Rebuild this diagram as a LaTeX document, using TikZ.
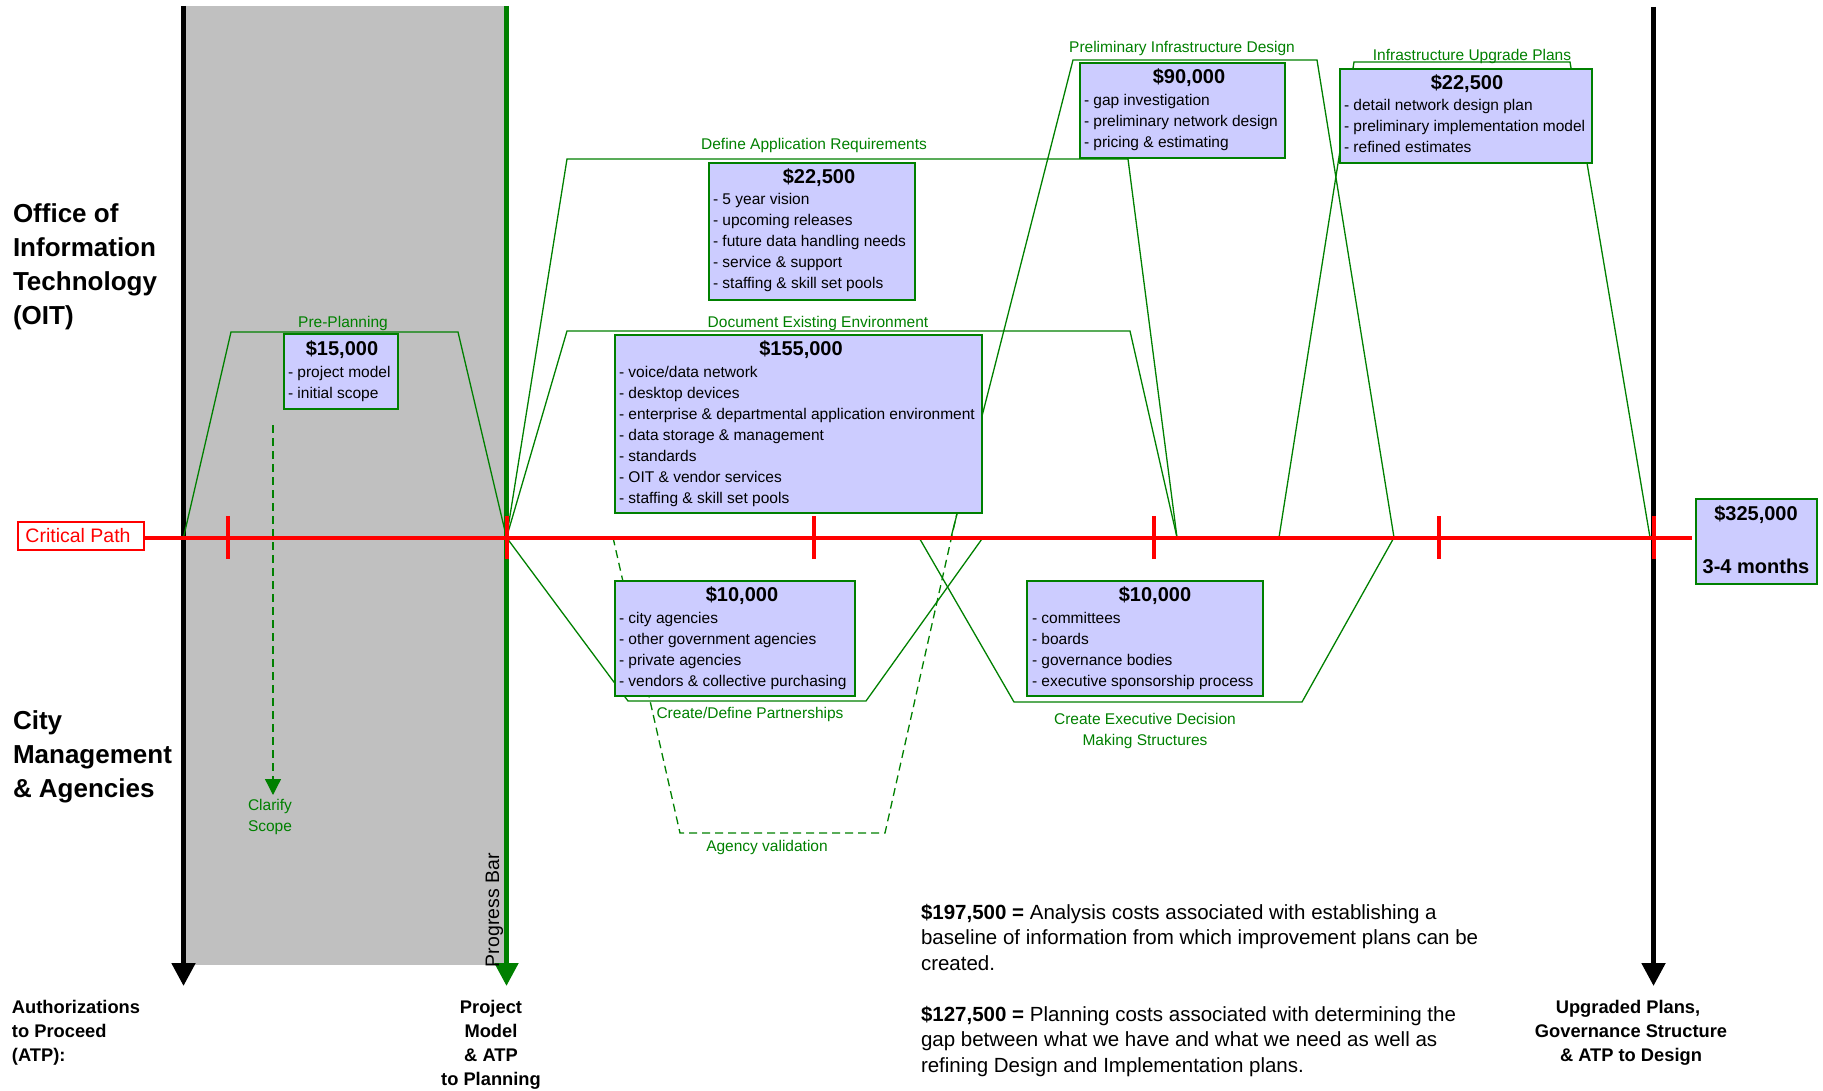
\documentclass[tikz,border=0pt]{standalone}
\usepackage{fontspec}
\setmainfont{Liberation Sans}
\usetikzlibrary{arrows.meta}
\definecolor{oitgreen}{RGB}{0,128,0}
\definecolor{boxfill}{RGB}{204,204,255}
\definecolor{bandgray}{RGB}{192,192,192}
\definecolor{cpred}{RGB}{255,0,0}

% list of bullet lines inside a cost box: name, left x, first baseline, items
\newcommand\costitems[4]{%
  \foreach \t [count=\i] in {#4}
    \node[costitem] (#1-\i) at (#2, {#3+21*(\i-1)}) {\t};}

\begin{document}
\begin{tikzpicture}[x=1pt,y=-1pt,
  every node/.style={inner sep=0pt, outer sep=0pt},
  lane/.style={font=\fontsize{26}{34}\selectfont\bfseries, anchor=base west},
  atp/.style={font=\fontsize{18.3}{24}\selectfont\bfseries, anchor=base},
  phase/.style={draw=oitgreen, line width=1.3pt, line join=miter},
  validation/.style={draw=oitgreen, line width=1.3pt, dash pattern=on 8pt off 5pt},
  phaselabel/.style={font=\fontsize{15.5}{21}\selectfont, text=oitgreen, anchor=base},
  costbox/.style={draw=oitgreen, line width=1.6pt, fill=boxfill},
  costtitle/.style={font=\fontsize{20}{24}\selectfont\bfseries, anchor=base},
  costitem/.style={font=\fontsize{15.5}{21}\selectfont, anchor=base west},
  milestone/.style={line width=5pt, -{Triangle[length=23pt,width=23pt]}},
  tickmark/.style={draw=cpred, line width=4pt},
  note/.style={font=\fontsize{20.5}{25.5}\selectfont, anchor=base west},
]
\useasboundingbox (0,0) rectangle (1823,1091);

% ---- completed-work band ----
\fill[bandgray] (186,6) rectangle (506,965);

% ---- milestone (ATP) lines ----
\coordinate (atp0top) at (183.5,6);   \coordinate (atp0end) at (183.5,986);
\coordinate (atp1top) at (506.5,6);   \coordinate (atp1end) at (506.5,986);
\coordinate (atp2top) at (1653.5,7);  \coordinate (atp2end) at (1653.5,986);
\draw[milestone, black] (atp0top) -- (atp0end);
\draw[milestone, oitgreen] (atp1top) -- (atp1end);
\draw[milestone, black] (atp2top) -- (atp2end);

% ---- points on the critical path ----
\coordinate (cpA) at (183.5,537.5);
\coordinate (cpB) at (506.5,537.5);
\coordinate (cpC) at (613,537.5);
\coordinate (cpD) at (919,537.5);
\coordinate (cpE) at (951,537.5);
\coordinate (cpF) at (983,537.5);
\coordinate (cpG) at (1177,537.5);
\coordinate (cpH) at (1279,537.5);
\coordinate (cpI) at (1394,537.5);
\coordinate (cpJ) at (1650,537.5);

% ---- activity spans ----
\draw[phase] (cpA) -- (231,332) -- (458,332) -- (cpB);            % pre-planning
\draw[phase] (cpB) -- (567,159) -- (1128,159) -- (cpG);           % application requirements
\draw[phase] (cpB) -- (567,331) -- (1130,331) -- (cpG);           % existing environment
\draw[phase] (cpE) -- (1073,60) -- (1317,60) -- (cpI);            % preliminary design
\draw[phase] (cpH) -- (1354,62) -- (1570,62) -- (cpJ);            % upgrade plans
\draw[phase] (cpB) -- (628,701) -- (866,701) -- (cpF);            % partnerships
\draw[phase] (cpD) -- (1014,702) -- (1302,702) -- (cpI);          % decision structures
\draw[validation] (cpC) -- (680,833) -- (885,833) -- (957,513);   % agency validation

% scope clarification
\coordinate (clarifytop) at (273,425);
\coordinate (clarifytip) at (273,795);
\draw[oitgreen, line width=1.3pt, dash pattern=on 8pt off 5pt,
      -{Triangle[length=16pt,width=16pt]}] (clarifytop) -- (clarifytip);

% ---- cost boxes ----
\node[costbox, minimum width=114pt, minimum height=75pt]  (b15)  at (341,371.5) {};
\node[costbox, minimum width=206pt, minimum height=137pt] (b22a) at (812,231.5) {};
\node[costbox, minimum width=367pt, minimum height=178pt] (b155) at (798.5,424) {};
\node[costbox, minimum width=205pt, minimum height=95pt]  (b90)  at (1182.5,110.5) {};
\node[costbox, minimum width=252pt, minimum height=94pt]  (b22b) at (1466,116) {};
\node[costbox, minimum width=240pt, minimum height=115pt] (b10a) at (735,638.5) {};
\node[costbox, minimum width=236pt, minimum height=115pt] (b10b) at (1145,638.5) {};
\node[costbox, minimum width=121pt, minimum height=85pt]  (b325) at (1756.5,541.5) {};

\node[costtitle] (t15)  at (342,355)  {\$15,000};
\node[costtitle] (t22a) at (819,184)  {\$22,500};
\node[costtitle] (t155) at (801,355)  {\$155,000};
\node[costtitle] (t90)  at (1189,84)  {\$90,000};
\node[costtitle] (t22b) at (1467,90)  {\$22,500};
\node[costtitle] (t10a) at (742,601)  {\$10,000};
\node[costtitle] (t10b) at (1155,601) {\$10,000};
\node[costtitle] (t325) at (1756,520) {\$325,000};
\node[costtitle] (m325) at (1756,573) {3-4 months};

\costitems{i15}{288}{377}{- project model, - initial scope}
\costitems{i22a}{713}{205}{- 5 year vision, - upcoming releases, - future data handling needs,
  - service \& support, - staffing \& skill set pools}
\costitems{i155}{619}{377}{- voice/data network, - desktop devices,
  - enterprise \& departmental application environment, - data storage \& management,
  - standards, - OIT \& vendor services, - staffing \& skill set pools}
\costitems{i90}{1084}{106}{- gap investigation, - preliminary network design, - pricing \& estimating}
\costitems{i22b}{1344}{111}{- detail network design plan, - preliminary implementation model, - refined estimates}
\costitems{i10a}{619}{623}{- city agencies, - other government agencies, - private agencies,
  - vendors \& collective purchasing}
\costitems{i10b}{1032}{623}{- committees, - boards, - governance bodies, - executive sponsorship process}

% ---- activity labels ----
\node[phaselabel] (lpre)  at (343,327)  {Pre-Planning};
\node[phaselabel] (lapp)  at (814,150)  {Define Application Requirements};
\node[phaselabel] (ldoc)  at (818,327)  {Document Existing Environment};
\node[phaselabel] (lpid)  at (1182,53)  {Preliminary Infrastructure Design};
\node[phaselabel] (liup)  at (1472,61)  {Infrastructure Upgrade Plans};
\node[phaselabel] (lpart) at (750,718)  {Create/Define Partnerships};
\node[phaselabel] (lval)  at (767,851)  {Agency validation};
\node[phaselabel] (lexe1) at (1145,724) {Create Executive Decision};
\node[phaselabel] (lexe2) at (1145,745) {Making Structures};
\node[phaselabel] (lcla1) at (270,810)  {Clarify};
\node[phaselabel] (lcla2) at (270,831)  {Scope};

% ---- progress bar caption ----
\node[font=\fontsize{19.5}{24}\selectfont, rotate=90, anchor=base west] (pbar) at (499,967) {Progress Bar};

% ---- critical path ----
\node[draw=cpred, line width=1.5pt, fill=white, minimum width=126pt, minimum height=28pt] (cpbox) at (81,536) {};
\node[font=\fontsize{19.5}{24}\selectfont, text=cpred, anchor=base] (cptext) at (78,542) {Critical Path};
\coordinate (cpend) at (1692,537.5);
\draw[cpred, line width=4pt] (cpbox.east |- cpA) -- (cpend);
\foreach \x [count=\k] in {228,506.5,814,1154,1439,1653.5}
  \draw[tickmark] (\x,516) coordinate (tick\k) -- (\x,559);

% ---- swimlane titles ----
\foreach \t [count=\i] in {Office of, Information, Technology, (OIT)}
  \node[lane] (oit\i) at (13, {223+33.7*(\i-1)}) {\t};
\foreach \t [count=\i] in {City, Management, \& Agencies}
  \node[lane] (city\i) at (13, {729+34*(\i-1)}) {\t};

% ---- authorizations to proceed ----
\foreach \t [count=\i] in {Authorizations, to Proceed, (ATP):}
  \node[atp, anchor=base west] (auth\i) at (12, {1013+24*(\i-1)}) {\t};
\foreach \t [count=\i] in {Project, Model, \& ATP, to Planning}
  \node[atp] (proj\i) at (491, {1013+24*(\i-1)}) {\t};
\node[atp] (upg1) at (1628,1013) {Upgraded Plans,};
\node[atp] (upg2) at (1631,1037) {Governance Structure};
\node[atp] (upg3) at (1631,1061) {\& ATP to Design};

% ---- cost notes ----
\node[note] (n11) at (921,919)   {\textbf{\$197,500 =} Analysis costs associated with establishing a};
\node[note] (n12) at (921,944.5) {baseline of information from which improvement plans can be};
\node[note] (n13) at (921,970)   {created.};
\node[note] (n21) at (921,1021)  {\textbf{\$127,500 =} Planning costs associated with determining the};
\node[note] (n22) at (921,1046.5){gap between what we have and what we need as well as};
\node[note] (n23) at (921,1072)  {refining Design and Implementation plans.};
\end{tikzpicture}
\end{document}
